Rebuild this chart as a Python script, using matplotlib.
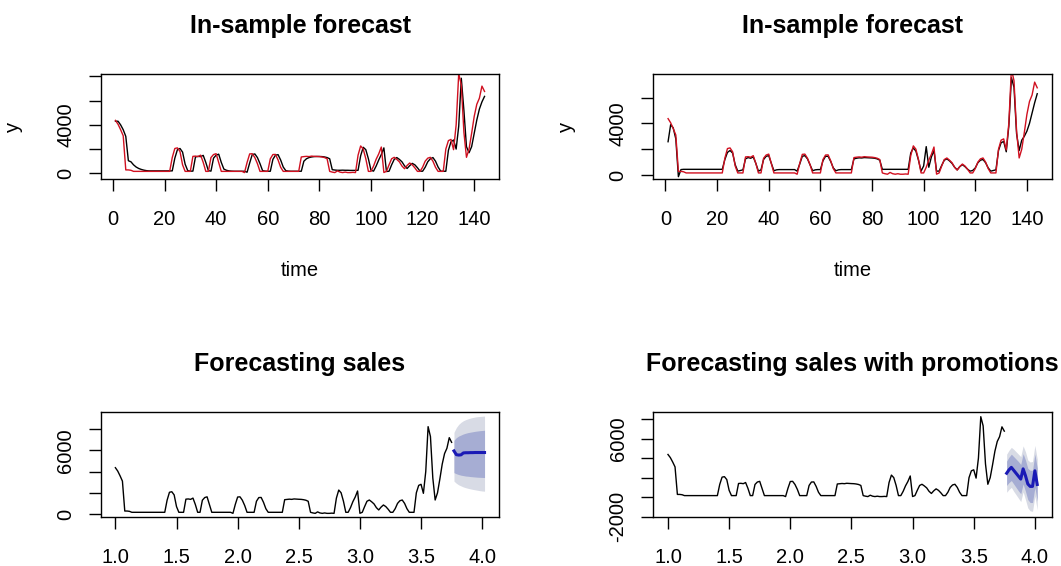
import matplotlib
matplotlib.use("Agg")
import matplotlib.pyplot as plt
import numpy as np

plt.rcParams["font.family"] = ["Liberation Sans", "DejaVu Sans"]

# Weekly sales (144 weeks)
sales = [
    4370, 4050, 3600, 3100, 280, 280, 250, 160, 160, 160,
    160, 160, 160, 160, 160, 160, 160, 160, 160, 160,
    160, 160, 1300, 2050, 2100, 1800, 700, 160, 160, 160,
    1400, 1420, 1380, 1500, 900, 160, 160, 1300, 1550, 1620,
    900, 160, 160, 160, 160, 160, 160, 160, 160, 160,
    60, 900, 1600, 1620, 1300, 800, 160, 160, 160, 160,
    1200, 1550, 1560, 1100, 500, 160, 160, 160, 160, 160,
    160, 160, 1350, 1380, 1400, 1380, 1420, 1400, 1390, 1380,
    1350, 1300, 1200, 160, 100, 60, 200, 100, 60, 100,
    60, 60, 80, 60, 1500, 2260, 2000, 1200, 160, 160,
    600, 1160, 1600, 2170, 66, 160, 700, 1200, 1320, 1150,
    950, 600, 380, 650, 850, 700, 450, 160, 160, 500,
    1000, 1250, 1320, 1000, 500, 160, 160, 160, 2000, 2700,
    2800, 1950, 4000, 8240, 7300, 3400, 1320, 2000, 3300, 4700,
    5700, 6200, 7200, 6760,
]

# Fitted values, model without promotions
fitted_base = [
    4300, 4300, 4000, 3600, 3050, 1040, 950, 700, 520, 400,
    320, 260, 220, 200, 200, 200, 200, 200, 200, 200,
    200, 200, 200, 1250, 1950, 2050, 1750, 750, 220, 180,
    180, 1350, 1400, 1380, 1480, 900, 220, 180, 1250, 1500,
    1580, 900, 350, 250, 200, 180, 170, 170, 170, 170,
    170, 90, 850, 1550, 1600, 1300, 800, 220, 180, 170,
    170, 1150, 1500, 1540, 1100, 520, 220, 180, 170, 170,
    170, 170, 170, 1000, 1200, 1300, 1350, 1380, 1390, 1390,
    1380, 1350, 1300, 1200, 300, 270, 250, 250, 260, 250,
    250, 240, 240, 240, 250, 1450, 2150, 1950, 1200, 250,
    180, 600, 1100, 1550, 2100, 150, 170, 700, 1150, 1300,
    1150, 950, 620, 400, 630, 820, 700, 460, 180, 170,
    500, 950, 1200, 1300, 1000, 520, 180, 170, 170, 1900,
    2600, 2750, 2000, 3900, 7850, 5200, 2200, 1700, 2200, 3300,
    4400, 5300, 5900, 6350,
]

# Fitted values, model with promotions
fitted_promo = [
    2580, 3900, 3650, 2800, -130, 420, 440, 440, 440, 440,
    440, 440, 440, 440, 440, 440, 440, 440, 440, 440,
    440, 440, 1200, 1750, 1900, 1700, 800, 300, 350, 400,
    1250, 1350, 1300, 1400, 900, 300, 400, 1200, 1450, 1500,
    900, 330, 400, 420, 420, 420, 420, 420, 420, 420,
    300, 850, 1450, 1500, 1250, 800, 330, 400, 420, 420,
    1100, 1450, 1450, 1050, 550, 330, 400, 420, 420, 420,
    420, 420, 1250, 1300, 1330, 1320, 1350, 1340, 1330, 1320,
    1300, 1250, 1150, 440, 440, 440, 440, 440, 440, 440,
    440, 440, 440, 440, 1700, 2100, 1850, 1150, 300, 700,
    2200, 600, 1400, 1900, 300, 300, 750, 1150, 1250, 1100,
    900, 600, 400, 650, 800, 650, 450, 300, 350, 550,
    950, 1150, 1200, 950, 550, 300, 350, 400, 1900, 2500,
    2600, 1800, 3800, 7550, 6800, 3200, 1900, 2700, 3000, 3400,
    4000, 4800, 5600, 6300,
]

# 14-week forecasts: point forecast with 80% / 95% intervals
fc_mean = [5950, 5600, 5560, 5580, 5760, 5780, 5780, 5790, 5790, 5800, 5800, 5800, 5800, 5800]
fc_lo80 = [3900, 3800, 3720, 3660, 3620, 3580, 3560, 3530, 3510, 3490, 3470, 3460, 3450, 3440]
fc_hi80 = [6950, 7200, 7350, 7450, 7550, 7620, 7680, 7720, 7760, 7800, 7830, 7860, 7880, 7900]
fc_lo95 = [3100, 2900, 2750, 2650, 2550, 2480, 2420, 2370, 2320, 2280, 2240, 2200, 2170, 2150]
fc_hi95 = [7700, 8150, 8450, 8650, 8800, 8900, 8980, 9050, 9100, 9150, 9180, 9200, 9220, 9240]

pr_mean = [2450, 2800, 3050, 2750, 2450, 2150, 1850, 2900, 2200, 1350, 1100, 1100, 2700, 1300]
pr_lo80 = [1200, 1500, 1700, 1350, 1000, 650, 350, 1350, 600, -250, -550, -550, 1000, -400]
pr_hi80 = [3700, 4100, 4400, 4150, 3900, 3650, 3350, 4450, 3800, 2950, 2750, 2750, 4400, 3000]
pr_lo95 = [500, 800, 1000, 600, 250, -100, -450, 550, -250, -1100, -1400, -1450, 100, -1300]
pr_hi95 = [4400, 4800, 5100, 4900, 4650, 4400, 4150, 5250, 4650, 3800, 3600, 3650, 5300, 3900]

week_ticks = [0, 20, 40, 60, 80, 100, 120, 140]
year_ticks = [1.0, 1.5, 2.0, 2.5, 3.0, 3.5, 4.0]

FREQ = 52
n_obs = len(sales)
h = len(fc_mean)
idx = np.arange(1, n_obs + 1)
t_hist = 1 + (idx - 1) / FREQ
t_fc = 1 + (np.arange(n_obs + 1, n_obs + h + 1) - 1) / FREQ

W, H = 1061, 566
fig = plt.figure(figsize=(W / 100, H / 100), dpi=100)

TICK_FS = 14.5
TITLE_FS = 18
RED = "#d01020"
BLUE = "#1a1ab5"
SHADE95 = "#d8dbe5"
SHADE80 = "#a6add3"


def add_ax(x0, y0, x1, y1):
    return fig.add_axes([x0 / W, 1 - y1 / H, (x1 - x0) / W, (y1 - y0) / H])


def style(ax, xticks, xlabels, yticks, ylabels):
    for s in ax.spines.values():
        s.set_linewidth(1.0)
        s.set_color("black")
    ax.set_xticks(xticks)
    ax.set_xticklabels(xlabels)
    ax.set_yticks(yticks)
    ax.set_yticklabels(ylabels)
    ax.tick_params(axis="both", direction="out", length=8.5, width=1.0,
                   labelsize=TICK_FS, colors="black")
    ax.tick_params(axis="x", pad=14)
    ax.tick_params(axis="y", pad=10, labelrotation=90)
    for lab in ax.get_yticklabels():
        lab.set_va("center")
        lab.set_ha("right")


boxes = {
    "tl": (100.7, 74, 499.3, 179),
    "tr": (653.3, 74, 1052, 179),
    "bl": (100.7, 411.7, 499.3, 516.7),
    "br": (653.3, 411.7, 1052, 516.7),
}

# In-sample panels
for key, fitted, ylim, yt, yl in [
    ("tl", fitted_base, (-470, 8200), [0, 2000, 4000, 6000, 8000], ["0", "", "4000", "", ""]),
    ("tr", fitted_promo, (-310, 7830), [0, 2000, 4000, 6000], ["0", "", "4000", ""]),
]:
    ax = add_ax(*boxes[key])
    ax.plot(idx, fitted, color="black", lw=1.0)
    ax.plot(idx, sales, color=RED, lw=1.0)
    ax.set_xlim(-4.72, 149.72)
    ax.set_ylim(*ylim)
    style(ax, week_ticks, [str(v) for v in week_ticks], yt, yl)
    x0, y0, x1, y1 = boxes[key]
    cx = (x0 + x1) / 2
    fig.text(cx / W, 1 - 25.5 / H, "In-sample forecast", ha="center", va="center",
             fontsize=TITLE_FS, fontweight="bold")
    fig.text(cx / W, 1 - 270 / H, "time", ha="center", va="center", fontsize=TICK_FS)
    fig.text((x0 - 87) / W, 1 - ((y0 + y1) / 2) / H, "y", ha="center", va="center",
             rotation=90, fontsize=TICK_FS)

# Forecast panels
for key, mean, lo80, hi80, lo95, hi95, ylim, yt, yl, title in [
    ("bl", fc_mean, fc_lo80, fc_hi80, fc_lo95, fc_hi95, (-255, 9650),
     [0, 2000, 4000, 6000, 8000], ["0", "", "", "6000", ""], "Forecasting sales"),
    ("br", pr_mean, pr_lo80, pr_hi80, pr_lo95, pr_hi95, (-2000, 8750),
     [-2000, 0, 2000, 4000, 6000, 8000], ["-2000", "", "", "", "6000", ""],
     "Forecasting sales with promotions"),
]:
    ax = add_ax(*boxes[key])
    ax.fill_between(t_fc, lo95, hi95, color=SHADE95, lw=0)
    ax.fill_between(t_fc, lo80, hi80, color=SHADE80, lw=0)
    ax.plot(t_hist, sales, color="black", lw=1.0)
    ax.plot(t_fc, mean, color=BLUE, lw=2.2)
    ax.set_xlim(0.88, 4.14)
    ax.set_ylim(*ylim)
    style(ax, year_ticks, [f"{v:.1f}" for v in year_ticks], yt, yl)
    x0, y0, x1, y1 = boxes[key]
    fig.text(((x0 + x1) / 2) / W, 1 - 363.5 / H, title, ha="center", va="center",
             fontsize=TITLE_FS, fontweight="bold")

fig.savefig("out.png", dpi=100)
